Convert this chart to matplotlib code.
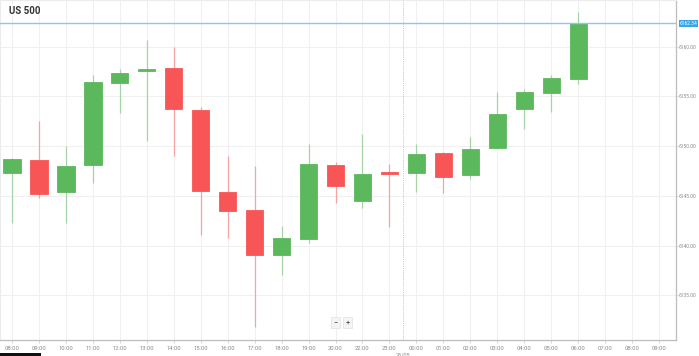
import matplotlib.pyplot as plt
from matplotlib.patches import Rectangle

# hourly candles, US 500 (21:00 market break is skipped on the axis)
hour_labels = ["08:00", "09:00", "10:00", "11:00", "12:00", "13:00", "14:00",
               "15:00", "16:00", "17:00", "18:00", "19:00", "20:00", "22:00",
               "23:00", "00:00", "01:00", "02:00", "03:00", "04:00", "05:00",
               "06:00", "07:00", "08:00", "09:00"]
opens = [6147.35, 6148.6, 6145.35, 6148.1, 6156.35, 6157.55, 6157.85, 6153.6,
         6145.35, 6143.6, 6139.1, 6140.65, 6148.1, 6144.5, 6147.4, 6147.35,
         6149.35, 6147.1, 6149.85, 6153.75, 6155.3, 6156.8]
highs = [6148.85, 6152.5, 6150.0, 6157.2, 6157.75, 6160.65, 6160.0, 6153.95,
         6149.0, 6148.0, 6142.0, 6150.2, 6148.45, 6151.25, 6148.2, 6150.2,
         6149.45, 6150.95, 6155.45, 6155.7, 6157.2, 6163.45]
lows = [6142.25, 6144.75, 6142.25, 6146.3, 6153.3, 6150.5, 6149.0, 6141.05,
        6140.75, 6131.85, 6137.05, 6140.3, 6144.3, 6143.75, 6141.9, 6145.4,
        6145.25, 6146.75, 6149.8, 6151.75, 6153.45, 6156.2]
closes = [6148.7, 6145.2, 6148.0, 6156.45, 6157.4, 6157.7, 6153.75, 6145.5,
          6143.5, 6139.05, 6140.75, 6148.25, 6145.95, 6147.25, 6147.25, 6149.25,
          6146.95, 6149.7, 6153.2, 6155.4, 6156.9, 6162.34]
y_ticks = [6135, 6140, 6145, 6150, 6155, 6160]
last_price = 6162.34
day_break = 14.5   # between 23:00 and 00:00
day_label = "26/05"

GREEN = "#5cb85c"
RED = "#f85656"
GRID = "#f0f0f0"
SPINE = "#bdbdbd"
LABEL = "#8a8a8a"

plt.rcParams["font.family"] = ["Roboto", "DejaVu Sans"]

fig = plt.figure(figsize=(6.99, 3.56), dpi=100)
ax = fig.add_axes([0.0, 16 / 356, 676 / 699, 340 / 356])

# grid
for i in range(len(hour_labels)):
    ax.axvline(i, color=GRID, lw=0.8, zorder=0)
for v in y_ticks:
    ax.axhline(v, color=GRID, lw=0.8, zorder=0)

# candles
w = 0.64
for i, (o, h, l, c) in enumerate(zip(opens, highs, lows, closes)):
    col = GREEN if c >= o else RED
    ax.vlines(i, l, h, color=col, lw=0.9, alpha=0.5, zorder=2)
    lo, hi = min(o, c), max(o, c)
    height = max(hi - lo, 0.2)
    if hi - lo < 0.2:
        lo = (o + c) / 2 - 0.1
    ax.add_patch(Rectangle((i - w / 2, lo), w, height, facecolor=col,
                           edgecolor=col, lw=0.6, zorder=3))

# last price line + tag
ax.axhline(last_price, color="#8cc8ee", lw=1.0, zorder=4)
ax.text(24.76, last_price, f"{last_price:.2f}", fontsize=3.5, color="white",
        va="center", ha="left", clip_on=False, zorder=6,
        bbox=dict(boxstyle="square,pad=0.2", fc="#38a5e6", ec="none"))

# day separator
ax.axvline(day_break, color="#b8b8b8", lw=0.6, ls=(0, (1, 1.2)), zorder=1)
ax.text(day_break, 6129.3, day_label, fontsize=4.0, color=LABEL,
        ha="center", va="top", clip_on=False)

ax.set_xlim(-0.445, 24.63)
ax.set_ylim(6130.52, 6164.69)

ax.set_xticks(range(len(hour_labels)))
ax.set_xticklabels(hour_labels)
ax.set_yticks(y_ticks)
ax.set_yticklabels([f"{v:.2f}" for v in y_ticks])
ax.yaxis.tick_right()
ax.tick_params(axis="x", length=2.5, width=0.5, color="#c8c8c8",
               labelsize=4.2, labelcolor=LABEL, pad=1.5)
ax.tick_params(axis="y", length=1.5, width=0.5, color="#c8c8c8",
               labelsize=3.5, labelcolor=LABEL, pad=0.6)

for s in ["top", "left"]:
    ax.spines[s].set_color("#ececec")
    ax.spines[s].set_linewidth(0.8)
for s in ["bottom", "right"]:
    ax.spines[s].set_color(SPINE)
    ax.spines[s].set_linewidth(0.9)

ax.text(0.014, 0.967, "US 500", transform=ax.transAxes, fontsize=7,
        fontweight="bold", color="#333333", ha="left", va="center")

# zoom buttons
for xb, sym in [(12.0, "\u2212"), (12.45, "+")]:
    ax.text(xb, 6132.3, sym, fontsize=5.5, color="#444444", ha="center",
            va="center", zorder=6,
            bbox=dict(boxstyle="square,pad=0.3", fc="#f4f4f4", ec="#e2e2e2",
                      lw=0.5))

fig.patches.append(Rectangle((0, 0), 41 / 699, 3 / 356, transform=fig.transFigure,
                             facecolor="#111111", edgecolor="none"))

fig.savefig("out.png", dpi=100)
